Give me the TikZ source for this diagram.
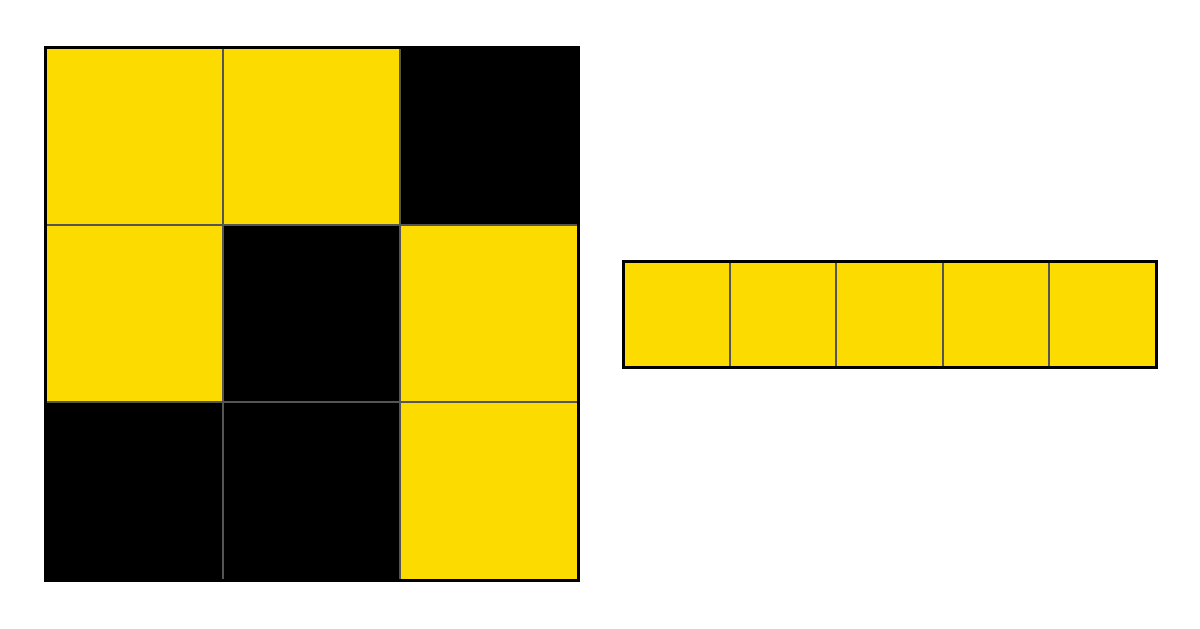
\documentclass[tikz,border=0pt]{standalone}
\usepackage{xcolor}
\usepackage{tikz}
\definecolor{tileyellow}{RGB}{252,220,0}
\definecolor{gridgray}{RGB}{85,85,85}

\begin{document}
\begin{tikzpicture}[
    x=1pt, y=-1pt,
    sep/.style={draw=gridgray, line width=2pt},
    frame/.style={draw=black, line width=3pt}
]
    \useasboundingbox (0,0) rectangle (1200,629);
    % 3x3 board
    \def\bs{177.67}
    \foreach \r/\c/\col in {0/0/tileyellow, 0/1/tileyellow, 0/2/black,
                            1/0/tileyellow, 1/1/black, 1/2/tileyellow,
                            2/0/black, 2/1/black, 2/2/tileyellow} {
        \fill [\col] ({45+\c*\bs},{47+\r*\bs}) rectangle ++(\bs,\bs);
    }
    \foreach \i in {1,2} {
        \path [sep] ({45+\i*\bs},47) -- ++(0,533);
        \path [sep] (45,{47+\i*\bs}) -- ++(533,0);
    }
    \path [frame] (45,47) rectangle (578,580);
    % 1x5 strip
    \def\ss{106.6}
    \fill [tileyellow] (623,261) rectangle (1156,367);
    \foreach \i in {1,...,4} {
        \path [sep] ({623+\i*\ss},261) -- ++(0,106);
    }
    \path [frame] (623,261) rectangle (1156,367);
\end{tikzpicture}
\end{document}
